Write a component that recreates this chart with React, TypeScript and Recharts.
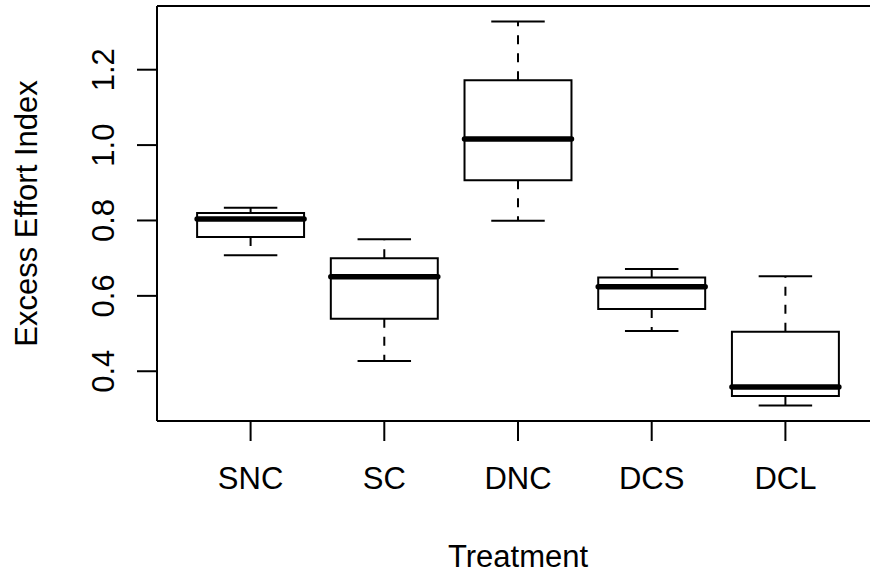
import React from 'react';
import {
  ComposedChart,
  XAxis,
  YAxis,
  Scatter,
  ReferenceArea,
  ReferenceLine,
  Label,
} from 'recharts';

const categories = ['SNC', 'SC', 'DNC', 'DCS', 'DCL'];
const positions = [1, 2, 3, 4, 5];
const whiskerLow = [0.708, 0.427, 0.799, 0.507, 0.309];
const lowerQuartile = [0.756, 0.539, 0.907, 0.565, 0.334];
const medians = [0.804, 0.651, 1.016, 0.624, 0.358];
const upperQuartile = [0.82, 0.7, 1.172, 0.649, 0.505];
const whiskerHigh = [0.834, 0.75, 1.328, 0.671, 0.652];

const yTicks = [0.4, 0.6, 0.8, 1.0, 1.2];
const yTickLabels = ['0.4', '0.6', '0.8', '1.0', '1.2'];
const xDomain = [0.3, 5.7];
const yDomain = [0.268, 1.369];

const xTitle = 'Treatment';
const yTitle = 'Excess Effort Index';

const FONT = '"Liberation Sans", Arial, Helvetica, sans-serif';
const FS = 31;
const BOX_HALF = 0.4;
const STAPLE_HALF = 0.2;

const data = positions.map((p, i) => ({
  x: p,
  median: medians[i],
}));

const XTick = (props: any) => {
  const { x, y, payload } = props;
  const idx = positions.indexOf(payload.value);
  return (
    <text
      x={x}
      y={y + 48}
      textAnchor="middle"
      fontFamily={FONT}
      fontSize={FS}
      fill="#000"
    >
      {categories[idx]}
    </text>
  );
};

const YTick = (props: any) => {
  const { x, y, payload } = props;
  const idx = yTicks.indexOf(payload.value);
  const bx = x - 23;
  return (
    <text
      x={bx}
      y={y}
      transform={`rotate(-90 ${bx} ${y})`}
      textAnchor="middle"
      fontFamily={FONT}
      fontSize={FS}
      fill="#000"
    >
      {yTickLabels[idx]}
    </text>
  );
};

const XTitle = (props: any) => {
  const vb = props.viewBox || { x: 157, y: 421, width: 722, height: 153 };
  const cx = vb.x + vb.width / 2;
  return (
    <text
      x={cx}
      y={567}
      textAnchor="middle"
      fontFamily={FONT}
      fontSize={FS}
      fill="#000"
    >
      {xTitle}
    </text>
  );
};

const YTitle = (props: any) => {
  const vb = props.viewBox || { x: 0, y: 6, width: 157, height: 415 };
  const cy = vb.y + vb.height / 2;
  const bx = 37;
  return (
    <text
      x={bx}
      y={cy}
      transform={`rotate(-90 ${bx} ${cy})`}
      textAnchor="middle"
      fontFamily={FONT}
      fontSize={FS}
      fill="#000"
    >
      {yTitle}
    </text>
  );
};

export default function App() {
  return (
    <div
      style={{
        position: 'absolute',
        left: 0,
        top: 0,
        width: 870,
        height: 574,
        overflow: 'hidden',
        background: '#fff',
      }}
    >
      <ComposedChart
        width={900}
        height={574}
        data={data}
        margin={{ top: 6, right: 21, bottom: 0, left: 0 }}
      >
        <XAxis
          type="number"
          dataKey="x"
          domain={xDomain}
          allowDataOverflow
          ticks={positions}
          interval={0}
          height={153}
          tickSize={20}
          tickMargin={0}
          tick={<XTick />}
          tickLine={{ stroke: '#000', strokeWidth: 2 }}
          axisLine={{ stroke: '#000', strokeWidth: 2 }}
        >
          <Label content={<XTitle />} />
        </XAxis>
        <YAxis
          type="number"
          domain={yDomain}
          allowDataOverflow
          ticks={yTicks}
          interval={0}
          width={157}
          tickSize={20}
          tickMargin={0}
          tick={<YTick />}
          tickLine={{ stroke: '#000', strokeWidth: 2 }}
          axisLine={{ stroke: '#000', strokeWidth: 2 }}
        >
          <Label content={<YTitle />} />
        </YAxis>

        <ReferenceLine
          y={yDomain[1]}
          stroke="#000"
          strokeWidth={2}
          ifOverflow="visible"
        />
        <ReferenceLine
          x={xDomain[1]}
          stroke="#000"
          strokeWidth={2}
          ifOverflow="visible"
        />

        {positions.map((p, i) => (
          <ReferenceLine
            key={`wh-${i}`}
            segment={[
              { x: p, y: upperQuartile[i] },
              { x: p, y: whiskerHigh[i] },
            ]}
            stroke="#000"
            strokeWidth={2}
            strokeDasharray="9 9"
            ifOverflow="visible"
          />
        ))}
        {positions.map((p, i) => (
          <ReferenceLine
            key={`wl-${i}`}
            segment={[
              { x: p, y: lowerQuartile[i] },
              { x: p, y: whiskerLow[i] },
            ]}
            stroke="#000"
            strokeWidth={2}
            strokeDasharray="9 9"
            ifOverflow="visible"
          />
        ))}
        {positions.map((p, i) => (
          <ReferenceLine
            key={`sh-${i}`}
            segment={[
              { x: p - STAPLE_HALF, y: whiskerHigh[i] },
              { x: p + STAPLE_HALF, y: whiskerHigh[i] },
            ]}
            stroke="#000"
            strokeWidth={2}
            ifOverflow="visible"
          />
        ))}
        {positions.map((p, i) => (
          <ReferenceLine
            key={`sl-${i}`}
            segment={[
              { x: p - STAPLE_HALF, y: whiskerLow[i] },
              { x: p + STAPLE_HALF, y: whiskerLow[i] },
            ]}
            stroke="#000"
            strokeWidth={2}
            ifOverflow="visible"
          />
        ))}
        {positions.map((p, i) => (
          <ReferenceArea
            key={`box-${i}`}
            x1={p - BOX_HALF}
            x2={p + BOX_HALF}
            y1={lowerQuartile[i]}
            y2={upperQuartile[i]}
            fill="#fff"
            fillOpacity={1}
            stroke="#000"
            strokeWidth={2}
            ifOverflow="visible"
          />
        ))}
        {positions.map((p, i) => (
          <ReferenceLine
            key={`med-${i}`}
            segment={[
              { x: p - BOX_HALF, y: medians[i] },
              { x: p + BOX_HALF, y: medians[i] },
            ]}
            stroke="#000"
            strokeWidth={5.5}
            strokeLinecap="round"
            ifOverflow="visible"
          />
        ))}
        <Scatter
          dataKey="median"
          isAnimationActive={false}
          shape={() => <g />}
        />
      </ComposedChart>
    </div>
  );
}
